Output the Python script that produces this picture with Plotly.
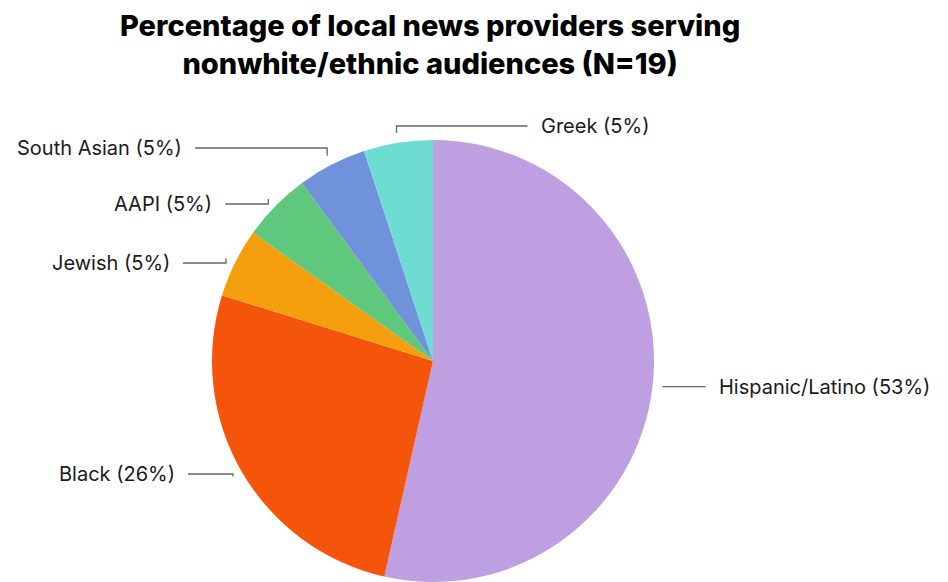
import math
import plotly.graph_objects as go

# ---- data ----
categories = ["Hispanic/Latino", "Black", "Jewish", "AAPI", "South Asian", "Greek"]
percentages = [53, 26, 5, 5, 5, 5]
colors = ["#BE9FE1", "#F5550B", "#F59E0E", "#5FC87C", "#6F92DB", "#6EDCD3"]
title_lines = ["Percentage of local news providers serving", "nonwhite/ethnic audiences (N=19)"]

# ---- layout config (pixels) ----
W, H = 948, 582
CX, CY, R = 433, 361, 221
ANCHOR_GAP = 10
# per label: side (+1 right, -1 left), label row y (None = anchor y), line length
label_layout = {
    "Hispanic/Latino": (1, None, 43),
    "Black": (-1, 474, 45),
    "Jewish": (-1, 263, 43),
    "AAPI": (-1, 204, 43),
    "South Asian": (-1, 148, 132),
    "Greek": (1, 126, 131),
}
TEXT_GAP = 11

def px(x):
    return x / W

def py(y):
    return 1 - y / H

fig = go.Figure()
fig.add_trace(go.Pie(
    labels=categories,
    values=percentages,
    marker=dict(colors=colors, line=dict(width=0)),
    sort=False,
    direction="clockwise",
    rotation=0,
    textinfo="none",
    hoverinfo="label+percent",
    showlegend=False,
    domain=dict(x=[px(CX - R), px(CX + R)], y=[py(CY + R), py(CY - R)]),
))

total = sum(percentages)
cum = 0
shapes = []
annotations = []
for cat, v in zip(categories, percentages):
    mid = (cum + v / 2) / total * 2 * math.pi
    cum += v
    ax = CX + (R + ANCHOR_GAP) * math.sin(mid)
    ay = CY - (R + ANCHOR_GAP) * math.cos(mid)
    side, ly, length = label_layout[cat]
    if ly is None:
        ly = ay
    ex = ax + side * length
    path = f"M {px(ax)} {py(ay)} L {px(ax)} {py(ly)} L {px(ex)} {py(ly)}"
    shapes.append(dict(type="path", path=path, xref="paper", yref="paper",
                       line=dict(color="#666666", width=1.3)))
    annotations.append(dict(
        x=px(ex + side * TEXT_GAP), y=py(ly), xref="paper", yref="paper",
        text=f"{cat} ({round(v)}%)", showarrow=False,
        xanchor="left" if side > 0 else "right", yanchor="middle",
        font=dict(family="Inter, Roboto, sans-serif", size=20, color="#1a1a1a"),
    ))

annotations.append(dict(
    x=px(430), y=py(6), xref="paper", yref="paper",
    text="<br>".join(title_lines), showarrow=False,
    xanchor="center", yanchor="top", align="center",
    font=dict(family="Inter, Roboto, sans-serif", size=29, color="#000000", weight=800),
))

fig.update_layout(
    width=W, height=H,
    margin=dict(l=0, r=0, t=0, b=0),
    paper_bgcolor="white",
    plot_bgcolor="white",
    shapes=shapes,
    annotations=annotations,
)

fig.write_html("out.html", config={"displayModeBar": False})
